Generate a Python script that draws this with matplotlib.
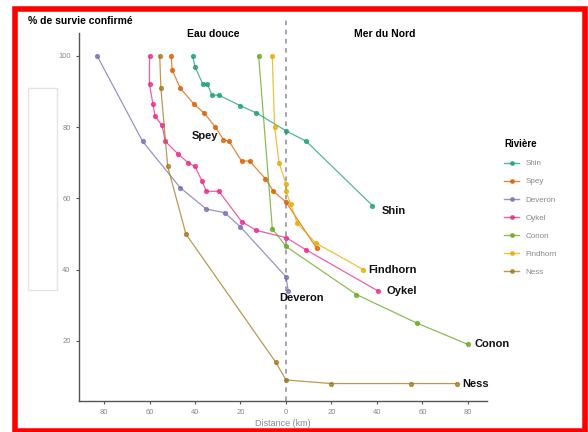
import matplotlib.pyplot as plt
from matplotlib.patches import Rectangle
from matplotlib.lines import Line2D

plt.rcParams['font.family'] = ['Liberation Sans', 'DejaVu Sans']

# distance (km): negative = eau douce, positive = mer
rivers = ["Shin", "Spey", "Deveron", "Oykel", "Conon", "Findhorn", "Ness"]
colors = ["#1B9E77", "#D95F02", "#7570B3", "#E7298A", "#66A61E", "#E6AB02", "#A6761D"]

shin_x = [-41, -40, -36.5, -34.5, -32.5, -29.5, -20, -13, 0, 9, 38]
shin_y = [100, 97, 92, 92, 89, 89, 86, 84, 79, 76, 58]
spey_x = [-50.5, -50, -46.5, -40.5, -36, -31, -27.5, -25, -19.5, -16, -9, -5.5, 0, 13.5]
spey_y = [100, 96, 91, 86.5, 84, 80, 76.5, 76, 70.5, 70.5, 65.5, 62, 59, 46]
deveron_x = [-83, -63, -46.5, -35, -27, -20, 0, 1]
deveron_y = [100, 76, 63, 57, 56, 52, 38, 34]
oykel_x = [-60, -60, -58.5, -57.5, -54.5, -53, -47.5, -43, -40, -37, -35, -29.5, -19.5, -13, 0, 9, 40.5]
oykel_y = [100, 92, 86.5, 83, 80.5, 76, 72.5, 70, 69, 65, 62, 62, 53.5, 51, 49, 45.5, 34]
conon_x = [-12, -6, 0, 31, 57.5, 80]
conon_y = [100, 51.5, 46.5, 33, 25, 19]
findhorn_x = [-6, -5, -3, 0, 0, 2, 5, 13, 34]
findhorn_y = [100, 80, 70, 64, 62, 58.5, 53, 47.5, 40]
ness_x = [-55.5, -55, -52, -44, -4.5, 0, 20, 55, 75]
ness_y = [100, 91, 69, 50, 14, 9, 8, 8, 8]

series_x = [shin_x, spey_x, deveron_x, oykel_x, conon_x, findhorn_x, ness_x]
series_y = [shin_y, spey_y, deveron_y, oykel_y, conon_y, findhorn_y, ness_y]

# label positions (x, y, ha)
label_pos = {"Shin": (42, 56.5, "left"), "Spey": (-35.5, 77.5, "center"),
             "Findhorn": (36, 40, "left"), "Oykel": (44, 34, "left"),
             "Deveron": (7, 32, "center"), "Conon": (83, 19, "left"),
             "Ness": (77.5, 8, "left")}

xticks = [-80, -60, -40, -20, 0, 20, 40, 60, 80]
xticklabels = ["80", "60", "40", "20", "0", "20", "40", "60", "80"]
yticks = [20, 40, 60, 80, 100]

fig = plt.figure(figsize=(5.88, 4.32), dpi=100)
ax = fig.add_axes([79 / 588, 1 - 401 / 432, 408 / 588, 381 / 432])

ax.axvline(0, color="#8a8aa0", linestyle=(0, (3, 3)), linewidth=1.1, zorder=1)

for name, c, xs, ys in zip(rivers, colors, series_x, series_y):
    ax.plot(xs, ys, color=c, linewidth=0.9, marker="o", markersize=2.8, alpha=0.75,
            label=name, zorder=3)
    lx, ly, ha = label_pos[name]
    ax.text(lx, ly, name, fontsize=8, fontweight="bold", ha=ha, va="center", color="#111111")

ax.text(-32, 106.2, "Eau douce", fontsize=7.5, fontweight="bold", ha="center", va="center")
ax.text(43.5, 106.2, "Mer du Nord", fontsize=7.5, fontweight="bold", ha="center", va="center")

ax.set_xlim(-91, 88.4)
ax.set_ylim(3.1, 110.1)
ax.set_xticks(xticks)
ax.set_xticklabels(xticklabels)
ax.set_yticks(yticks)
for s in ["top", "right"]:
    ax.spines[s].set_visible(False)
for s in ["left", "bottom"]:
    ax.spines[s].set_color("#555555")
    ax.spines[s].set_linewidth(1.0)
ax.spines["left"].set_bounds(3.1, 106.5)
ax.tick_params(colors="#555555", labelcolor="#888888", labelsize=5.5, length=2.5, width=0.8)
ax.set_xlabel("Distance (km)", fontsize=6.5, color="#888888", labelpad=2)

fig.text(28 / 588, 1 - 21 / 432, "% de survie confirmé", fontsize=7.5, fontweight="bold",
         ha="left", va="center")

handles = [Line2D([0], [0], color=c, marker="o", markersize=2.5, linewidth=1.0, alpha=0.75)
           for c in colors]
leg = fig.legend(handles, rivers, title="Rivière", loc="upper left",
                 bbox_to_anchor=(497 / 588, 1 - 132 / 432), frameon=False,
                 fontsize=5.8, title_fontsize=7, handlelength=1.8, labelspacing=1.3,
                 alignment="left")
leg.get_title().set_fontweight("bold")
for t in leg.get_texts():
    t.set_color("#888888")

# faint box at left
fig.patches.append(Rectangle((28 / 588, 1 - 290 / 432), 29 / 588, 202 / 432,
                             transform=fig.transFigure, facecolor="white",
                             edgecolor="#e4e4e4", linewidth=1.0, zorder=0))
# red frame
fig.patches.append(Rectangle((15 / 588, 1.5 / 432), 570 / 588, 422 / 432,
                             transform=fig.transFigure, facecolor="none",
                             edgecolor="red", linewidth=4.0, zorder=10))

fig.savefig("out.png", dpi=100)
